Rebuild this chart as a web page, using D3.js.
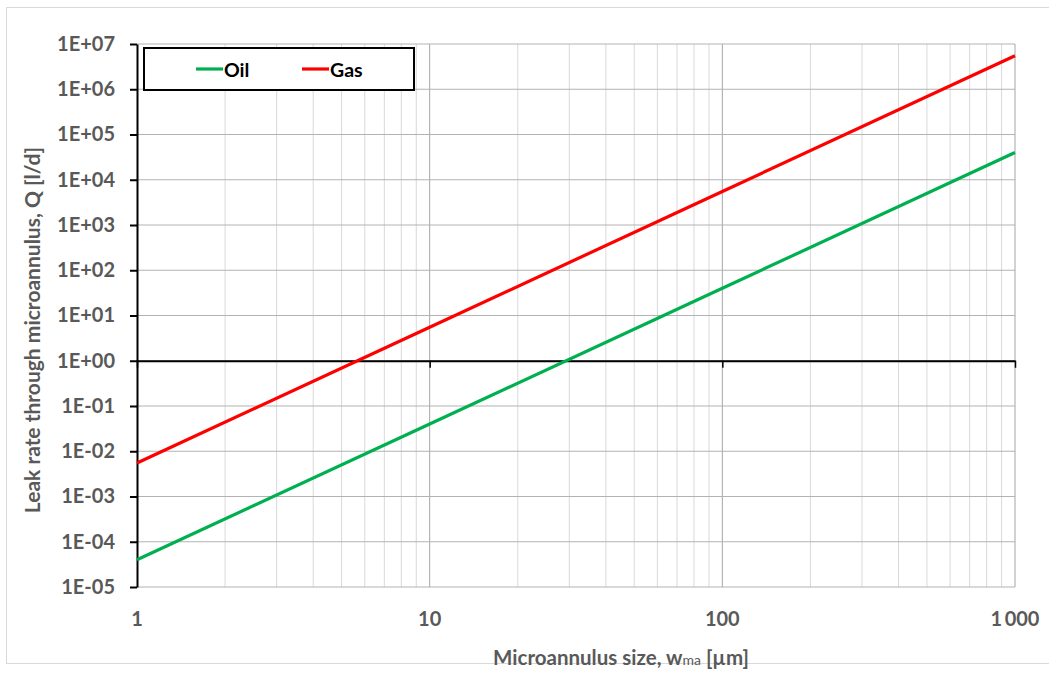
<!doctype html>
<html>
<head>
<meta charset="utf-8">
<title>leak rate</title>
<script src="https://cdn.jsdelivr.net/npm/d3@7"></script>
<style>
  body { margin: 0; background: #fff; }
  text { font-family: Lato, "Open Sans", sans-serif; font-weight: bold; }
</style>
</head>
<body>
<script>
// microannulus size [um]
var sizes = [1, 10, 100, 1000]
// leak rate [l/d]
var oil = [4e-5, 4e-2, 40, 4e4]
var gas = [5.5e-3, 5.5, 5500, 5.5e6]
var xTicks = [1, 10, 100, 1000]
var xTickLabels = ["1", "10", "100", "1\u2009000"]
var yTickLabels = ["1E-05","1E-04","1E-03","1E-02","1E-01","1E+00","1E+01","1E+02","1E+03","1E+04","1E+05","1E+06","1E+07"]
var seriesNames = ["Oil", "Gas"]
var seriesColors = ["#00b050", "#ff0000"]

var width = 1049, height = 677
var svg = d3.select("body").append("svg")
  .attr("width", width).attr("height", height)

svg.append("rect")
  .attr("x", 6.5).attr("y", 7.5)
  .attr("width", 1050).attr("height", 656)
  .attr("fill", "none").attr("stroke", "#d9d9d9")

var pLeft = 137, pRight = 1015, pTop = 44, pBottom = 587
var x = d3.scaleLog().domain([1, 1000]).range([pLeft, pRight])
var y = d3.scaleLog().domain([1e-5, 1e7]).range([pBottom, pTop])
var yTicks = yTickLabels.map(function(s) { return +s })

// minor vertical grid
var minor = []
for (var d = 1; d < 1000; d *= 10)
  for (var k = 2; k <= 9; k++) minor.push(d * k)
svg.append("g").selectAll("line").data(minor).enter().append("line")
  .attr("x1", function(d) { return x(d) }).attr("x2", function(d) { return x(d) })
  .attr("y1", pTop).attr("y2", pBottom)
  .attr("stroke", "#d9d9d9").attr("stroke-width", 1)

// major vertical grid
svg.append("g").selectAll("line").data(xTicks.slice(1)).enter().append("line")
  .attr("x1", function(d) { return x(d) }).attr("x2", function(d) { return x(d) })
  .attr("y1", pTop).attr("y2", pBottom)
  .attr("stroke", "#a6a6a6").attr("stroke-width", 1)

// horizontal grid
svg.append("g").selectAll("line").data(yTicks).enter().append("line")
  .attr("x1", pLeft).attr("x2", pRight)
  .attr("y1", function(d) { return y(d) }).attr("y2", function(d) { return y(d) })
  .attr("stroke", "#b3b3b3").attr("stroke-width", 1)

// y axis
var yAxis = d3.axisLeft(y).tickValues(yTicks).tickSize(7).tickSizeOuter(0)
  .tickFormat(function(d, i) { return yTickLabels[i] })
var gy = svg.append("g").attr("transform", "translate(" + pLeft + ",0)").call(yAxis)
gy.select(".domain").attr("stroke", "#000").attr("stroke-width", 2)
gy.selectAll(".tick line").attr("stroke", "#000").attr("stroke-width", 2)
gy.selectAll(".tick text").attr("x", -22).attr("fill", "#595959")
  .style("font-size", "20px").style("font-family", "Lato, sans-serif").style("font-weight", "bold")

// x axis at y = 1
var xAxis = d3.axisBottom(x).tickValues(xTicks).tickSize(7).tickSizeOuter(0)
  .tickFormat(function() { return "" })
var gx = svg.append("g").attr("transform", "translate(0," + y(1) + ")").call(xAxis)
gx.select(".domain").attr("stroke", "#000").attr("stroke-width", 2)
gx.selectAll(".tick line").attr("stroke", "#000").attr("stroke-width", 1.5)

svg.append("g").selectAll("text").data(xTicks).enter().append("text")
  .attr("x", function(d) { return x(d) }).attr("y", 626)
  .attr("text-anchor", "middle").attr("fill", "#595959")
  .style("font-size", "20px")
  .text(function(d, i) { return xTickLabels[i] })

// series
var line = d3.line()
  .x(function(d) { return x(d[0]) })
  .y(function(d) { return y(d[1]) })
;[oil, gas].forEach(function(vals, i) {
  svg.append("path")
    .datum(sizes.map(function(s, j) { return [s, vals[j]] }))
    .attr("d", line).attr("fill", "none")
    .attr("stroke", seriesColors[i]).attr("stroke-width", 3.2)
})

// axis titles
var xt = svg.append("text").attr("x", 621).attr("y", 665)
  .attr("text-anchor", "middle").attr("fill", "#595959").style("font-size", "20.5px")
xt.append("tspan").text("Microannulus size, w")
xt.append("tspan").style("font-size", "14px").style("font-weight", "normal").text("ma")
xt.append("tspan").text(" [\u00b5m]")

svg.append("text")
  .attr("transform", "translate(40,330) rotate(-90)")
  .attr("text-anchor", "middle").attr("fill", "#595959").style("font-size", "21px")
  .text("Leak rate through microannulus, Q [l/d]")

// legend
var lg = svg.append("g")
lg.append("rect").attr("x", 144).attr("y", 48).attr("width", 270).attr("height", 42)
  .attr("fill", "#fff").attr("stroke", "#000").attr("stroke-width", 2)
var lx = [196, 302]
seriesNames.forEach(function(n, i) {
  lg.append("line").attr("x1", lx[i]).attr("x2", lx[i] + 27)
    .attr("y1", 69).attr("y2", 69)
    .attr("stroke", seriesColors[i]).attr("stroke-width", 3.2)
  lg.append("text").attr("x", lx[i] + 28).attr("y", 77)
    .attr("fill", "#000").style("font-size", "19.5px").text(n)
})
</script>
</body>
</html>
